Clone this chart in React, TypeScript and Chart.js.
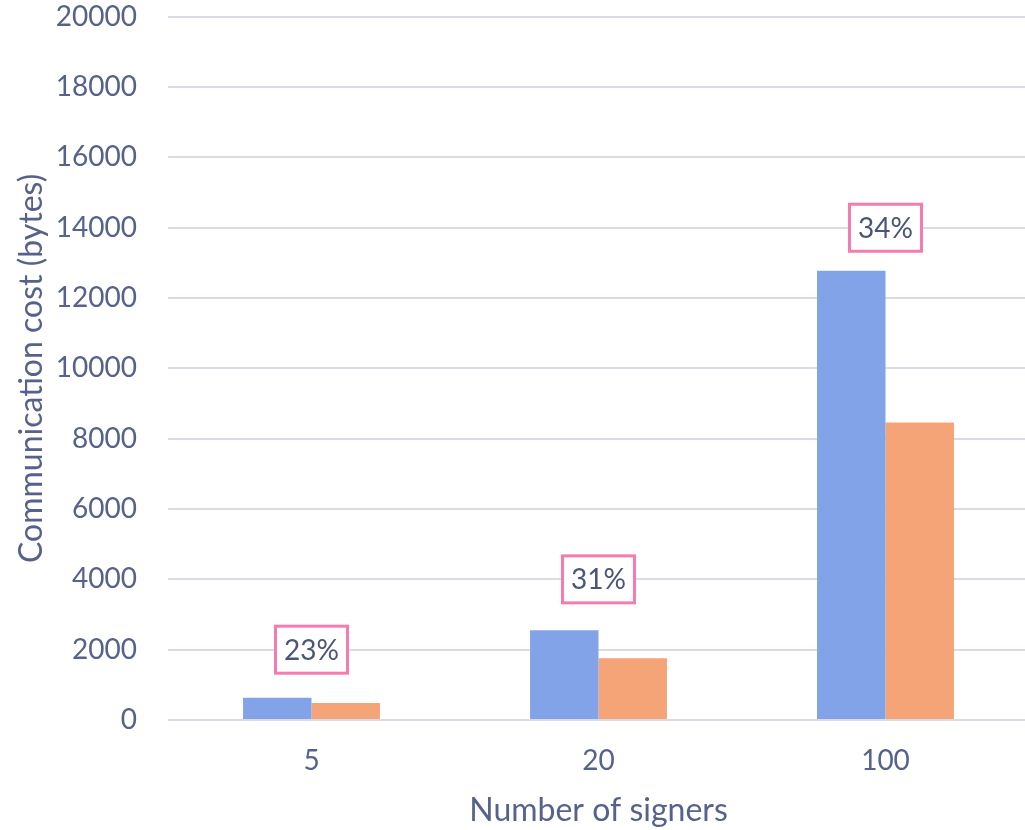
import React, { useEffect, useRef } from "react";
import { Chart, registerables } from "chart.js";

Chart.register(...registerables);

const categories = ["5", "20", "100"];
const seriesA = [630, 2550, 12780];
const seriesB = [485, 1755, 8460];
const reductionLabels = ["23%", "31%", "34%"];
const labelAnchors = [2000, 4000, 14000];
const yTicks = [0, 2000, 4000, 6000, 8000, 10000, 12000, 14000, 16000, 18000, 20000];

const FONT = "Lato, 'Open Sans', sans-serif";
const TEXT = "#56628C";

const boxPlugin = {
  id: "reductionBoxes",
  afterDatasetsDraw(chart: any) {
    const ctx = chart.ctx;
    const x = chart.scales.x;
    const y = chart.scales.y;
    ctx.save();
    reductionLabels.forEach((lab, i) => {
      const cx = x.getPixelForValue(i);
      const cy = y.getPixelForValue(labelAnchors[i]);
      const w = 72, h = 47;
      ctx.fillStyle = "#ffffff";
      ctx.fillRect(cx - w / 2, cy - h / 2, w, h);
      ctx.strokeStyle = "#F47CB0";
      ctx.lineWidth = 3;
      ctx.strokeRect(cx - w / 2, cy - h / 2, w, h);
      ctx.fillStyle = "#4A5578";
      ctx.font = `28px ${FONT}`;
      ctx.textAlign = "center";
      ctx.textBaseline = "middle";
      ctx.fillText(lab, cx, cy + 1);
    });
    ctx.restore();
  },
};

export default function App() {
  const ref = useRef<HTMLCanvasElement>(null);
  useEffect(() => {
    document.body.style.margin = "0";
    const chart = new Chart(ref.current!, {
      type: "bar",
      data: {
        labels: categories,
        datasets: [
          { label: "A", data: seriesA, backgroundColor: "#82A3E8", borderWidth: 0 },
          { label: "B", data: seriesB, backgroundColor: "#F5A478", borderWidth: 0 },
        ],
      },
      options: {
        responsive: false,
        animation: false,
        layout: { padding: 0 },
        plugins: { legend: { display: false }, tooltip: { enabled: false } },
        datasets: { bar: { categoryPercentage: 0.477, barPercentage: 1 } },
        scales: {
          x: {
            grid: { display: false },
            border: { display: false },
            ticks: { color: TEXT, font: { family: FONT, size: 28 }, padding: 16 },
            title: {
              display: true,
              text: "Number of signers",
              color: TEXT,
              font: { family: FONT, size: 32 },
              padding: { top: 4, bottom: 0 },
            },
            afterFit: (s: any) => { s.height = 110; },
          },
          y: {
            min: 0,
            max: 20000,
            afterBuildTicks: (s: any) => { s.ticks = yTicks.map((v) => ({ value: v })); },
            grid: { color: "#D9DCE6", lineWidth: 2, drawTicks: false },
            border: { display: false },
            ticks: {
              color: TEXT,
              font: { family: FONT, size: 28 },
              padding: 31,
              callback: (v: any) => String(v),
            },
            title: {
              display: true,
              text: "Communication cost (bytes)",
              color: TEXT,
              font: { family: FONT, size: 32 },
              padding: { top: 12, bottom: 0 },
            },
            afterFit: (s: any) => { s.width = 168; },
          },
        },
      },
      plugins: [boxPlugin],
    });
    return () => chart.destroy();
  }, []);
  return (
    <div style={{ position: "fixed", left: 0, top: 0, width: 1025, height: 830, overflow: "hidden", background: "#fff" }}>
      <canvas
        ref={ref}
        width={1029}
        height={861}
        style={{ display: "block", position: "absolute", left: 0, top: -31 }}
      />
    </div>
  );
}
